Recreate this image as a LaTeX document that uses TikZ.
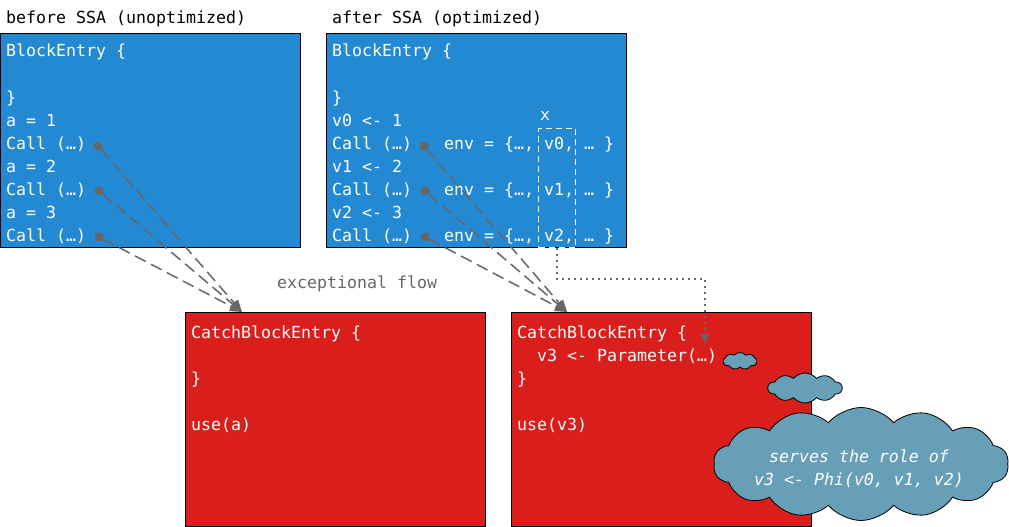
\documentclass[tikz,border=0pt]{standalone}
\usepackage{fontspec}
\setmonofont{DejaVu Sans Mono}
\usepackage{tikz}
\usetikzlibrary{arrows.meta,shapes.symbols}
\definecolor{blockblue}{RGB}{36,137,211}
\definecolor{catchred}{RGB}{218,30,27}
\definecolor{cloudblue}{RGB}{104,159,184}
\definecolor{flowgray}{RGB}{102,102,102}

\begin{document}
\begin{tikzpicture}[x=1pt, y=-1pt,
    box/.style = {draw, line width=1pt, anchor=north west, minimum width=300pt, minimum height=214pt, inner sep=0},
    code/.style = {anchor=base west, inner sep=0, text=white, font=\fontsize{16.6}{23}\selectfont\ttfamily},
    title/.style = {code, text=black},
    dot/.style = {circle, fill=flowgray, inner sep=0, minimum size=9pt},
    flow/.style = {flowgray, line width=1.5pt, dash pattern=on 12pt off 6pt, -{Triangle[length=12pt,width=10pt]}},
    link/.style = {flowgray, line width=1.5pt, dash pattern=on 2pt off 4pt, -{Triangle[length=10pt,width=8pt]}},
    puff/.style = {cloud, draw, fill=cloudblue, line width=0.8pt, inner sep=0, cloud ignores aspect, cloud puff arc=100}]
        \useasboundingbox (0,0) rectangle (1009,527);
        \node[title] (before) at (6,24) {before SSA (unoptimized)};
        \node[title] (after) at (332,24) {after SSA (optimized)};
        \node[box, fill=blockblue] (entryA) at (0,33) {};
        \node[box, fill=blockblue] (entryB) at (326,33) {};
        \node[box, fill=catchred] (catchA) at (185,312) {};
        \node[box, fill=catchred] (catchB) at (511,312) {};
        % unoptimized block
        \node[code] (a0) at (6,57) {BlockEntry \{};
        \node[code] (a2) at (6,103) {\}};
        \node[code] (a3) at (6,126) {a = 1};
        \node[code] (a4) at (6,149) {Call (…)};
        \node[code] (a5) at (6,172) {a = 2};
        \node[code] (a6) at (6,195) {Call (…)};
        \node[code] (a7) at (6,218) {a = 3};
        \node[code] (a8) at (6,241) {Call (…)};
        % optimized block
        \node[code] (b0) at (332,57) {BlockEntry \{};
        \node[code] (b2) at (332,103) {\}};
        \node[code] (b3) at (332,126) {v0 <- 1};
        \node[code] (b4) at (332,149) {Call (…)};
        \node[code] (b5) at (332,172) {v1 <- 2};
        \node[code] (b6) at (332,195) {Call (…)};
        \node[code] (b7) at (332,218) {v2 <- 3};
        \node[code] (b8) at (332,241) {Call (…)};
        \node[code] (env1) at (444,149) {env = \{…, v0, … \}};
        \node[code] (env2) at (444,195) {env = \{…, v1, … \}};
        \node[code] (env3) at (444,241) {env = \{…, v2, … \}};
        \node[draw=white, dashed, dash pattern=on 6pt off 4pt, line width=1pt, anchor=north west,
              minimum width=37pt, minimum height=119pt, inner sep=0] (vbox) at (538,128) {};
        \node[code] (xlabel) at (540,120) {x};
        % catch blocks
        \node[code] (c0) at (191,338) {CatchBlockEntry \{};
        \node[code] (c2) at (191,384) {\}};
        \node[code] (c4) at (191,430) {use(a)};
        \node[code] (d0) at (517,338) {CatchBlockEntry \{};
        \node[code] (d1) at (537,361) {v3 <- Parameter(…)};
        \node[code] (d2) at (517,384) {\}};
        \node[code] (d4) at (517,430) {use(v3)};
        \node[code, text=flowgray] (exc) at (277,288) {exceptional flow};
        % calls that may throw
        \node[dot] (callA1) at (98,146) {};
        \node[dot] (callA2) at (99,191) {};
        \node[dot] (callA3) at (99,237) {};
        \node[dot] (callB1) at (424,146) {};
        \node[dot] (callB2) at (425,191) {};
        \node[dot] (callB3) at (425,237) {};
        \coordinate (hitA) at (242,312);
        \coordinate (hitB) at (567,312);
        \coordinate (param) at (705,344);
        \draw[flow] (callA1) -- (hitA);
        \draw[flow] (callA2) -- (hitA);
        \draw[flow] (callA3) -- (hitA);
        \draw[flow] (callB1) -- (hitB);
        \draw[flow] (callB2) -- (hitB);
        \draw[flow] (callB3) -- (hitB);
        \draw[link] (vbox.south) -- ++(0,31) -| (param);
        % note
        \node[puff, cloud puffs=9, minimum width=34pt, minimum height=17pt] (puff1) at (740,361) {};
        \node[puff, cloud puffs=10, minimum width=74pt, minimum height=30pt] (puff2) at (805,388) {};
        \node[puff, cloud puffs=14, minimum width=295pt, minimum height=113pt] (bigcloud) at (861,464) {};
        \node[code, anchor=center, align=center, font=\fontsize{16.6}{23}\selectfont\ttfamily\itshape] (phinote) at (859,469) {serves the role of\\v3 <- Phi(v0, v1, v2)};
      \end{tikzpicture}
\end{document}
